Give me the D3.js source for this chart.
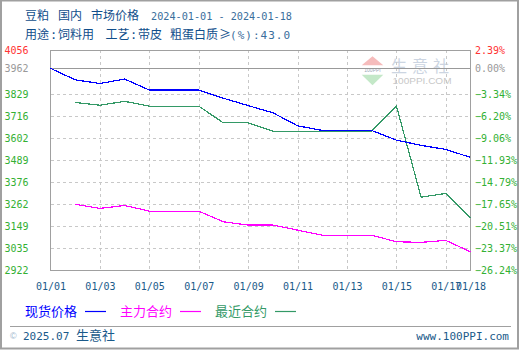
<!DOCTYPE html>
<html>
<head>
<meta charset="utf-8">
<script src="https://cdn.jsdelivr.net/npm/d3@7/dist/d3.min.js"></script>
<style>
  html, body { margin: 0; padding: 0; background: #fff; }
  svg { display: block; }
  text { white-space: pre; }
</style>
</head>
<body>
<svg id="chart" width="520" height="350"></svg>
<script>
// 豆粕 国内市场价格, 2024-01-01 .. 2024-01-18
const days = ["2024-01-01","2024-01-02","2024-01-03","2024-01-04","2024-01-05","2024-01-06",
  "2024-01-07","2024-01-08","2024-01-09","2024-01-10","2024-01-11","2024-01-12",
  "2024-01-13","2024-01-14","2024-01-15","2024-01-16","2024-01-17","2024-01-18"];
// 现货价格
const spotPrice = [3962, 3903, 3884, 3907, 3850, 3850, 3850, 3808, 3770, 3733, 3666, 3642,
  3642, 3642, 3592, 3565, 3544, 3503];
// 主力合约
const mainContract = [null, 3261, 3240, 3255, 3226, 3226, 3226, 3171, 3154, 3154, 3128, 3102,
  3102, 3102, 3068, 3065, 3075, 3016];
// 最近合约
const nearContract = [null, 3786, 3772, 3792, 3767, 3767, 3767, 3681, 3681, 3638, 3638, 3638,
  3638, 3638, 3769, 3298, 3317, 3189];

const basePrice = 3962;
const priceTicks = [4056, 3962, 3829, 3716, 3602, 3489, 3376, 3262, 3149, 3035, 2922];
const pctTicks = [2.39, 0.00, -3.34, -6.20, -9.06, -11.93, -14.79, -17.65, -20.51, -23.37, -26.24];
const xTickDays = ["2024-01-01","2024-01-03","2024-01-05","2024-01-07","2024-01-09",
  "2024-01-11","2024-01-13","2024-01-15","2024-01-17","2024-01-18"];
const legendNames = ["现货价格", "主力合约", "最近合约"];
const legendColors = ["#0000ff", "#ff00ff", "#339966"];

const svg = d3.select("#chart");
const parse = d3.timeParse("%Y-%m-%d");
const mono = "'DejaVu Sans Mono', 'Liberation Mono', monospace";
const cjk = "'Noto Sans CJK SC', 'Noto Sans', sans-serif";
const ink = "#1a5a8a";

const L = 50.5, R = 470.5, T = 50, B = 270;
const yMax = 4056.7, yMin = 2922.4;

const x = d3.scaleTime().domain([parse(days[0]), parse(days[days.length - 1])]).range([L, R]);
const y = d3.scaleLinear().domain([yMin, yMax]).range([B, T]);
const yPct = d3.scaleLinear()
  .domain([(yMin / basePrice - 1) * 100, (yMax / basePrice - 1) * 100]).range([B, T]);

// outer border
svg.append("rect").attr("x", 1).attr("y", 0.5).attr("width", 517).attr("height", 348)
  .attr("fill", "#fff").attr("stroke", "#a0a0a0").attr("stroke-width", 2);

// title lines
const t1 = svg.append("g").attr("fill", "#104e8b").style("font-size", "12px");
[["豆粕", 25], ["国内", 58], ["市场价格", 91]].forEach(([s, px]) =>
  t1.append("text").attr("x", px).attr("y", 20).style("font-family", cjk).text(s));
t1.append("text").attr("x", 151).attr("y", 20).attr("fill", "#3a6e9c")
  .style("font-family", mono).style("font-size", "10.5px")
  .attr("textLength", 141).attr("lengthAdjust", "spacingAndGlyphs")
  .text(days[0] + " - " + days[days.length - 1]);

const t2 = svg.append("g").attr("fill", "#104e8b").style("font-size", "12px");
[["用途", 25, cjk], [":", 50, mono], ["饲料用", 58, cjk], ["工艺", 105.5, cjk], [":", 130, mono],
 ["带皮", 138, cjk], ["粗蛋白质", 170, cjk], ["≥", 219, cjk]].forEach(([s, px, f]) =>
  t2.append("text").attr("x", px).attr("y", 39).style("font-family", f).text(s));
t2.append("text").attr("x", 230).attr("y", 39).attr("fill", "#3a6e9c")
  .style("font-family", mono).style("font-size", "11px")
  .attr("textLength", 60).attr("lengthAdjust", "spacing").text("(%):43.0");

// watermark
const wm = svg.append("g");
wm.append("path").attr("d", "M361.7,65.3 L383.3,65.3 L372.5,56.3 Z").attr("fill", "#f6bcbc");
wm.append("path").attr("d", "M361.7,74.7 L383.3,74.7 L372.5,85.3 Z").attr("fill", "#c4e8c8");
wm.append("text").attr("x", 372.5).attr("y", 72).attr("text-anchor", "middle")
  .style("font-family", "Liberation Sans, sans-serif").style("font-size", "5px")
  .attr("fill", "#9aa8b8").text("100PPI");
wm.append("text").attr("x", 391).attr("y", 72).style("font-family", cjk)
  .style("font-size", "16px").style("letter-spacing", "5px").attr("fill", "#ccd5e2").text("生意社");
wm.append("text").attr("x", 392.5).attr("y", 84).style("font-family", "Liberation Sans, sans-serif")
  .style("font-size", "9px").attr("fill", "#c8c8c8")
  .attr("textLength", 59).attr("lengthAdjust", "spacingAndGlyphs").text("100PPI.COM");

// grid
const grid = svg.append("g").attr("shape-rendering", "crispEdges");
priceTicks.slice(2, -1).forEach(v => grid.append("line")
  .attr("x1", L).attr("x2", R).attr("y1", Math.round(y(v)) + 0.5).attr("y2", Math.round(y(v)) + 0.5)
  .attr("stroke", "#c8c8c8").attr("stroke-dasharray", "3,3"));
xTickDays.slice(1, -1).forEach(d => grid.append("line")
  .attr("x1", Math.round(x(parse(d))) + 0.5).attr("x2", Math.round(x(parse(d))) + 0.5)
  .attr("y1", T).attr("y2", B).attr("stroke", "#c8c8c8").attr("stroke-dasharray", "3,3"));
grid.append("line").attr("x1", L).attr("x2", R)
  .attr("y1", Math.round(y(basePrice)) + 0.5).attr("y2", Math.round(y(basePrice)) + 0.5)
  .attr("stroke", "#999");

// plot frame
svg.append("rect").attr("x", L).attr("y", T + 0.5).attr("width", R - L).attr("height", B - T)
  .attr("fill", "none").attr("stroke", "#a0a0a0").attr("shape-rendering", "crispEdges");

// axes
const tickColor = (i) => i === 0 ? "#ff3333" : (i === 1 ? "#999999" : "#33b033");
const ax = svg.append("g").attr("transform", `translate(${L},0)`)
  .call(d3.axisLeft(y).tickValues(priceTicks).tickSize(0).tickPadding(22).tickFormat(d3.format("d")));
ax.select(".domain").remove();
ax.selectAll("text").style("font-family", mono).style("font-size", "10px")
  .attr("fill", (d, i) => tickColor(i));

const axR = svg.append("g").attr("transform", `translate(${R},0)`)
  .call(d3.axisRight(yPct).tickValues(pctTicks).tickSize(0).tickPadding(4.5)
    .tickFormat(d => d3.format(".2f")(d) + "%"));
axR.select(".domain").remove();
axR.selectAll("text").style("font-family", mono).style("font-size", "10px")
  .attr("fill", (d, i) => tickColor(i));

const axB = svg.append("g").attr("transform", `translate(0,${B})`)
  .call(d3.axisBottom(x).tickValues(xTickDays.map(parse)).tickSize(0).tickPadding(13)
    .tickFormat(d3.timeFormat("%m/%d")));
axB.select(".domain").remove();
axB.selectAll("text").style("font-family", mono).style("font-size", "10px").attr("fill", ink);

// series
const series = [
  { values: nearContract, color: legendColors[2] },
  { values: mainContract, color: legendColors[1] },
  { values: spotPrice, color: legendColors[0] }
];
const line = d3.line()
  .defined(d => d.v != null)
  .x(d => x(d.t)).y(d => y(d.v));
series.forEach(s => {
  svg.append("path")
    .datum(days.map((d, i) => ({ t: parse(d), v: s.values[i] })))
    .attr("d", line).attr("fill", "none").attr("stroke", s.color)
    .attr("stroke-width", 1.2).attr("shape-rendering", "crispEdges");
});

// legend
const lg = svg.append("g");
[25, 120, 215].forEach((px, i) => {
  lg.append("text").attr("x", px).attr("y", 316).style("font-family", cjk)
    .style("font-size", "13px").attr("fill", legendColors[i]).text(legendNames[i]);
  lg.append("line").attr("x1", px + 60).attr("x2", px + 81).attr("y1", 311.5).attr("y2", 311.5)
    .attr("stroke", legendColors[i]).attr("stroke-width", 1.2);
});

// footer
svg.append("line").attr("x1", 10).attr("x2", 511).attr("y1", 326.5).attr("y2", 326.5)
  .attr("stroke", "#a0a0a0");
svg.append("text").attr("x", 10).attr("y", 339).style("font-family", "Liberation Sans, sans-serif")
  .style("font-size", "9px").attr("fill", "#9ab4cc").text("©");
svg.append("text").attr("x", 23).attr("y", 340).style("font-family", mono)
  .style("font-size", "11px").attr("fill", ink).text("2025.07");
svg.append("text").attr("x", 76).attr("y", 340).style("font-family", cjk)
  .style("font-size", "13px").attr("fill", ink).text("生意社");
svg.append("text").attr("x", 509).attr("y", 340).attr("text-anchor", "end")
  .style("font-family", mono).style("font-size", "11px").attr("fill", ink).text("www.100PPI.com");
</script>
</body>
</html>
